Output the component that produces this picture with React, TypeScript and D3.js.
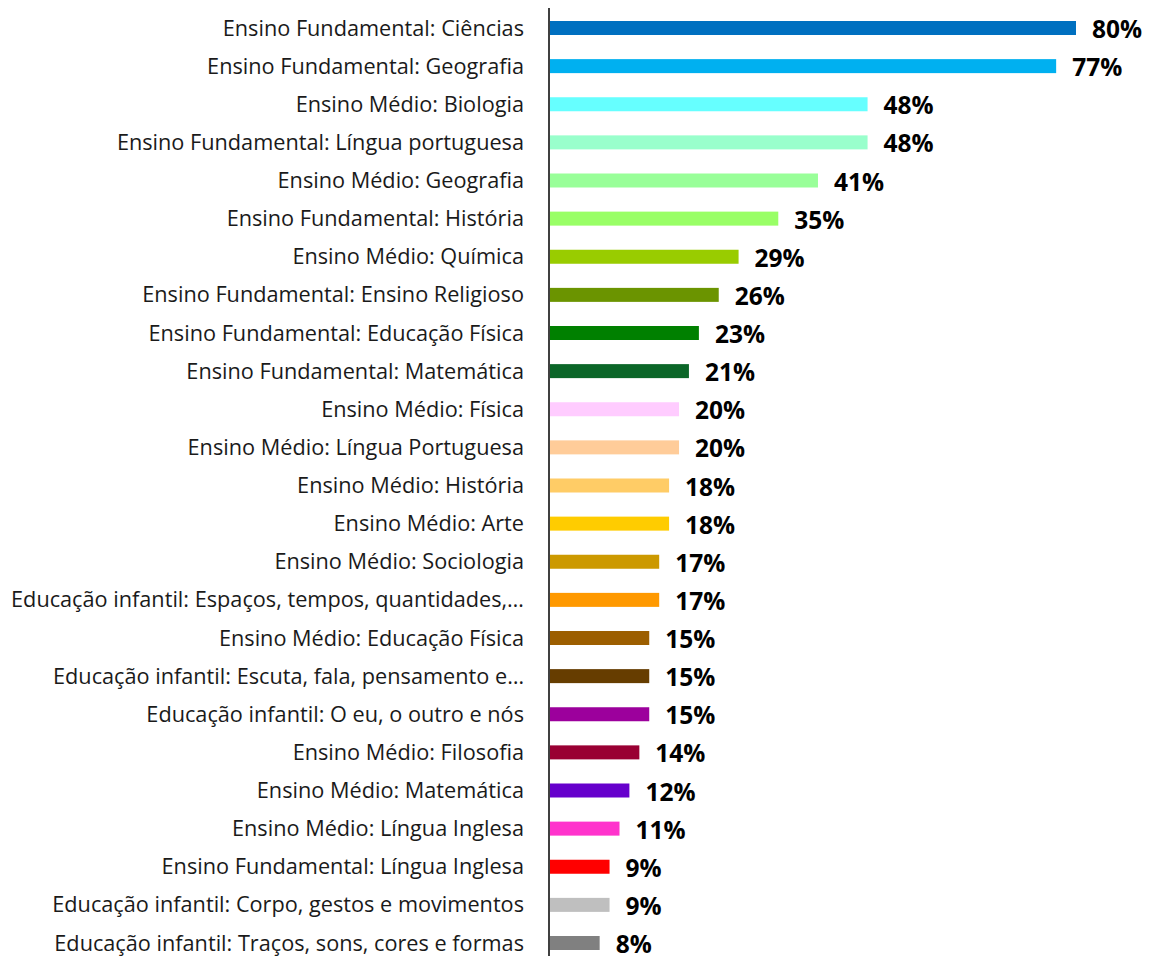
import React from "react";
import * as d3 from "d3";

const categories = [
  "Ensino Fundamental: Ciências",
  "Ensino Fundamental: Geografia",
  "Ensino Médio: Biologia",
  "Ensino Fundamental: Língua portuguesa",
  "Ensino Médio: Geografia",
  "Ensino Fundamental: História",
  "Ensino Médio: Química",
  "Ensino Fundamental: Ensino Religioso",
  "Ensino Fundamental: Educação Física",
  "Ensino Fundamental: Matemática",
  "Ensino Médio: Física",
  "Ensino Médio: Língua Portuguesa",
  "Ensino Médio: História",
  "Ensino Médio: Arte",
  "Ensino Médio: Sociologia",
  "Educação infantil: Espaços, tempos, quantidades,…",
  "Ensino Médio: Educação Física",
  "Educação infantil: Escuta, fala, pensamento e…",
  "Educação infantil: O eu, o outro e nós",
  "Ensino Médio: Filosofia",
  "Ensino Médio: Matemática",
  "Ensino Médio: Língua Inglesa",
  "Ensino Fundamental: Língua Inglesa",
  "Educação infantil: Corpo, gestos e movimentos",
  "Educação infantil: Traços, sons, cores e formas",
];

const values = [
  80.3, 77.27, 48.48, 48.48, 40.91, 34.85, 28.79, 25.76, 22.73, 21.21, 19.7,
  19.7, 18.18, 18.18, 16.67, 16.67, 15.15, 15.15, 15.15, 13.64, 12.12, 10.61,
  9.09, 9.09, 7.58,
];

const colors = [
  "#0070C0", "#00B0F0", "#66FFFF", "#99FFCC", "#99FF99", "#99FF66", "#99CC00",
  "#6B9400", "#008000", "#0B6628", "#FFCCFF", "#FFCC99", "#FFCC66", "#FFCC00",
  "#CC9900", "#FF9900", "#9C5E00", "#663D00", "#9C009C", "#990033", "#6600CC",
  "#FF33CC", "#FF0000", "#BFBFBF", "#808080",
];

const W = 1154;
const H = 956;

export default function App() {
  const x = d3.scaleLinear().domain([0, values[0]]).range([550, 1076]);
  const y = d3.scalePoint<string>().domain(categories).range([28, 943]);
  const barH = 14;
  const fmt = (v: number) => `${Math.round(v)}%`;
  return (
    <svg
      width={W}
      height={H}
      style={{ position: "absolute", left: 0, top: 0, background: "#fff" }}
    >
      {categories.map((c, i) => {
        const cy = y(c) as number;
        return (
          <g key={c}>
            <rect
              x={x(0)}
              y={cy - barH / 2}
              width={x(values[i]) - x(0)}
              height={barH}
              fill={colors[i]}
            />
            <text
              x={524}
              y={cy}
              dy="0.35em"
              textAnchor="end"
              fontFamily="'Open Sans', 'Noto Sans', sans-serif"
              fontSize={21.7}
              fill="#1a1a1a"
            >
              {c}
            </text>
            <text
              x={x(values[i]) + 16}
              y={cy + 10}
              fontFamily="'Open Sans', 'Noto Sans', sans-serif"
              fontWeight="bold"
              fontSize={24.5}
              fill="#000"
            >
              {fmt(values[i])}
            </text>
          </g>
        );
      })}
      <line x1={549} x2={549} y1={8} y2={956} stroke="#404040" strokeWidth={2} />
    </svg>
  );
}
